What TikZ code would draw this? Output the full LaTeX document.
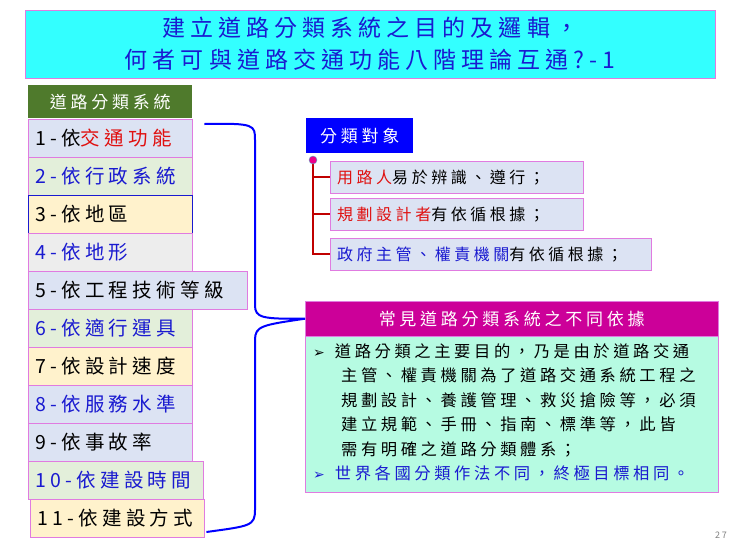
\documentclass[tikz,border=0pt]{standalone}
\usepackage{fontspec}
\setmainfont[LetterSpace=22]{Noto Sans CJK TC}
\newfontfamily\symfont{DejaVu Sans}
\usetikzlibrary{calc,positioning}
\definecolor{titlecyan}{HTML}{33FFFF}
\definecolor{boxpink}{HTML}{E07BE0}
\definecolor{hdgreen}{HTML}{4F7A2C}
\definecolor{fillblue}{HTML}{DCE3F3}
\definecolor{fillgreen}{HTML}{E3EFDA}
\definecolor{fillyellow}{HTML}{FFF2CC}
\definecolor{fillgray}{HTML}{EDEDED}
\definecolor{hdmagenta}{HTML}{CC0099}
\definecolor{bodymint}{HTML}{B6FBE2}
\definecolor{textblue}{HTML}{1A1AD0}
\definecolor{textred}{HTML}{E01010}
\definecolor{treered}{HTML}{C00000}
\begin{document}
\begin{tikzpicture}[x=1pt,y=-1pt,
    % styles
    item/.style={draw=boxpink,anchor=north west,minimum height=37.6pt,
      inner xsep=7pt,text width=#1,align=left,font=\fontsize{19.5}{20}\selectfont},
    item/.default=150pt,
    obj/.style={draw=boxpink,fill=fillblue,anchor=north west,minimum height=32pt,
      inner xsep=7pt,align=left,font=\fontsize{16}{18}\selectfont},
    brace/.style={draw=blue,line width=2pt},
    tree/.style={draw=treered,line width=2.5pt}]
  \useasboundingbox (0,0) rectangle (740,555);

  % title
  \node (title) [draw=boxpink,fill=titlecyan,minimum width=690pt,minimum height=68pt,
    anchor=north west,align=center,text=textblue,font=\fontsize{23}{32}\selectfont]
    at (25,10) {建立道路分類系統之目的及邏輯，\\何者可與道路交通功能八階理論互通?-1};

  % list of systems
  \node (hd) [fill=hdgreen,text=white,anchor=north west,minimum width=164pt,
    minimum height=33pt,font=\fontsize{17}{18}\selectfont] at (28,85) {道路分類系統};
  \node (i1) [item,fill=fillblue] at (28,119) {1-依\textcolor{textred}{交通功能}};
  \node (i2) [item,fill=fillgreen,below=0pt of i1,text=textblue] {2-依行政系統};
  \node (i3) [item,fill=fillyellow,draw=textblue,below=0pt of i2] {3-依地區};
  \node (i4) [item,fill=fillgray,below=0pt of i3,text=textblue] {4-依地形};
  \node (i5) [item=205pt,fill=fillblue,below=0pt of i4.south west,anchor=north west] {5-依工程技術等級};
  \node (i6) [item,fill=fillgreen,below=0pt of i5.south west,anchor=north west,text=textblue] {6-依適行運具};
  \node (i7) [item,fill=fillyellow,below=0pt of i6] {7-依設計速度};
  \node (i8) [item,fill=fillblue,below=0pt of i7,text=textblue] {8-依服務水準};
  \node (i9) [item,fill=fillblue,below=0pt of i8] {9-依事故率};
  \node (i10) [item=161pt,fill=fillgreen,below=0pt of i9.south west,anchor=north west,text=textblue] {10-依建設時間};
  \node (i11) [item=160pt,fill=fillyellow,below=0pt of i10.south west,anchor=north west,xshift=2pt] {11-依建設方式};

  % objects
  \node (ob) [fill=blue,text=white,anchor=north west,minimum width=107pt,
    minimum height=35pt,font=\fontsize{17}{18}\selectfont] at (306,118) {分類對象};
  \node (o1) [obj,text width=239pt] at (330,161) {\textcolor{textred}{用路人}易於辨識、遵行；};
  \node (o2) [obj,text width=239pt] at (330,198) {\textcolor{textred}{規劃設計者}有依循根據；};
  \node (o3) [obj,text width=307pt] at (330,238)
    {\textcolor{textblue}{政府主管、權責機關}有依循根據；};
  \coordinate (root) at (313,160);
  \draw[tree] (root) |- (o3.west);
  \draw[tree] (root |- o1.west) -- (o1.west);
  \draw[tree] (root |- o2.west) -- (o2.west);
  \fill[magenta,draw=cyan!60!gray,thin] (root) circle (4pt);

  % basis
  \node (bh) [draw=boxpink,fill=hdmagenta,text=white,anchor=north west,minimum width=413pt,
    minimum height=35pt,font=\fontsize{17}{18}\selectfont] at (305,301) {常見道路分類系統之不同依據};
  \node (bb) [draw=boxpink,fill=bodymint,anchor=north west,minimum width=413pt,
    minimum height=156pt,inner sep=0pt] at (bh.south west) {};
  \node (bt) [anchor=north west,align=left,inner sep=0pt,
    font=\fontsize{16.3}{24.5}\selectfont] at (313,343)
    {{\symfont\fontsize{14}{24.5}\selectfont ➢}\hspace{10pt}道路分類之主要目的，乃是由於道路交通\\
     \hspace{28pt}主管、權責機關為了道路交通系統工程之\\
     \hspace{28pt}規劃設計、養護管理、救災搶險等，必須\\
     \hspace{28pt}建立規範、手冊、指南、標準等，此皆\\
     \hspace{28pt}需有明確之道路分類體系；\\
     \textcolor{textblue}{{\symfont\fontsize{14}{24.5}\selectfont ➢}\hspace{10pt}世界各國分類作法不同，終極目標相同。}};

  % brace
  \coordinate (tip) at (bh.west);
  \draw[brace] ($(i1.east)+(12,-14)$) .. controls (255,123) and (255,125) .. (255,140)
    -- (255,305) .. controls (255,318) and (262,319) .. (tip)
    .. controls (262,325) and (255,326) .. (255,340)
    -- (255,510) .. controls (255,526) and (250,526) .. ($(i11.east)+(2,14)$);

  % page number
  \node (pg) [text=gray,font=\fontsize{9}{10}\selectfont] at (721,535) {27};
\end{tikzpicture}
\end{document}
